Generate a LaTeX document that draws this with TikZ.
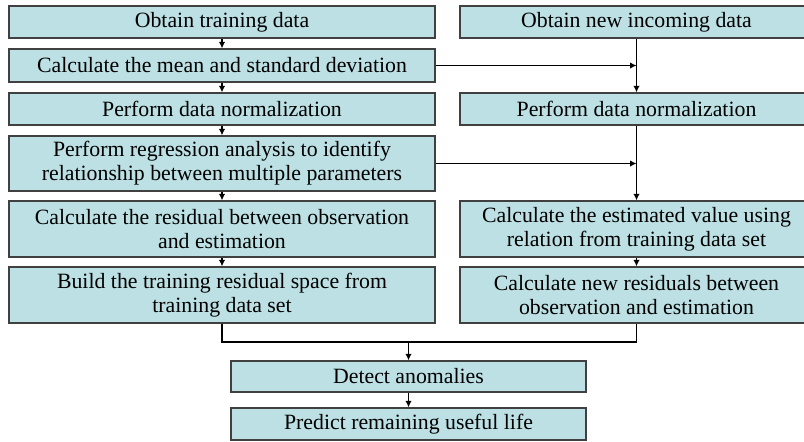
\documentclass[tikz,border=0pt]{standalone}
\usepackage{fontspec}
\setmainfont{Liberation Serif}
\usetikzlibrary{arrows.meta}
\definecolor{boxfill}{RGB}{188,224,227}

\begin{document}
\begin{tikzpicture}[x=0.5pt, y=-0.5pt,
    box/.style={draw=black!75, fill=boxfill, line width=0.7pt, inner sep=0pt, align=center,
        font=\fontsize{10.9}{12}\selectfont},
    lbox/.style={box, minimum width=213pt},
    rbox/.style={box, minimum width=176.5pt},
    arr/.style={-{Latex[length=3.2pt, width=3.2pt]}, line width=0.6pt}]
    \useasboundingbox (0, 0) rectangle (804, 441);
    % training side
    \node[lbox, minimum height=16pt] (l1) at (222, 22) {Obtain training data};
    \node[lbox, minimum height=16.5pt] (l2) at (222, 65.5) {Calculate the mean and standard deviation};
    \node[lbox, minimum height=16pt] (l3) at (222, 109) {Perform data normalization};
    \node[lbox, minimum height=27.5pt] (l4) at (222, 163.5) {Perform regression analysis to identify\\relationship between multiple parameters};
    \node[lbox, minimum height=28pt] (l5) at (222, 229) {Calculate the residual between observation\\and estimation};
    \node[lbox, minimum height=28pt] (l6) at (222, 295) {Build the training residual space from\\training data set};
    % new data side
    \node[rbox, minimum height=16pt] (r1) at (636.5, 22) {Obtain new incoming data};
    \node[rbox, minimum height=16pt] (r3) at (636.5, 109) {Perform data normalization};
    \node[rbox, minimum height=28pt] (r5) at (636.5, 229) {Calculate the estimated value using\\relation from training data set};
    \node[rbox, minimum height=28pt] (r6) at (636.5, 295) {Calculate new residuals between\\observation and estimation};
    % common part
    \node[box, minimum width=177.5pt, minimum height=15.5pt] (detect) at (408.5, 376.5) {Detect anomalies};
    \node[box, minimum width=177.5pt, minimum height=16pt] (predict) at (408.5, 424) {Predict remaining useful life};
    \coordinate (join) at (408.5, 342);

    \draw[arr] (l1) -- (l2);
    \draw[arr] (l2) -- (l3);
    \draw[arr] (l3) -- (l4);
    \draw[arr] (l4) -- (l5);
    \draw[arr] (l5) -- (l6);
    \draw[arr] (r1) -- (r3);
    \draw[arr] (r3) -- (r5);
    \draw[arr] (r5) -- (r6);
    \draw[arr] (l2.east) -- (l2.east -| r1.south);
    \draw[arr] (l4.east) -- (l4.east -| r3.south);
    \draw[line width=0.6pt] (l6.south) |- (join) -| (r6.south);
    \draw[arr] (join) -- (detect);
    \draw[arr] (detect) -- (predict);
\end{tikzpicture}
\end{document}
